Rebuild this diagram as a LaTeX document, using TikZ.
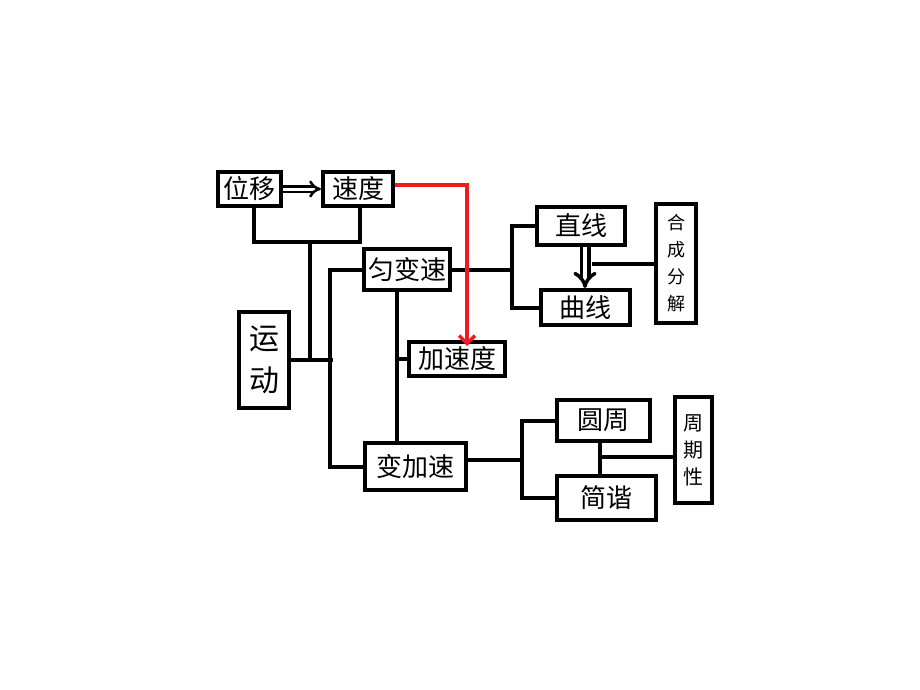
\documentclass[tikz,border=0pt]{standalone}
\usepackage{fontspec}
\newfontfamily\cjk{Noto Sans CJK SC}
\usetikzlibrary{arrows.meta}
\definecolor{arrred}{RGB}{237,28,36}
\begin{document}
\begin{tikzpicture}[x=1pt,y=-1pt,
	box/.style={draw, line width=4pt, inner sep=0pt, align=center, font=\cjk\fontsize{26}{30}\selectfont},
	vtext/.style={font=\cjk\fontsize{18}{27}\selectfont},
	conn/.style={line width=4pt},
	dbl/.style={double, double distance=3pt, line width=2.5pt, -{Implies}},
	redarr/.style={arrred, line width=3.5pt, -{Straight Barb[length=8pt,width=16pt]}}]
	\useasboundingbox (0,0) rectangle (920,690);

	\node[box, minimum width=63pt, minimum height=34pt] (wy) at (249,189) {位移};
	\node[box, minimum width=70pt, minimum height=34pt] (sd) at (358,189) {速度};
	\node[box, minimum width=50pt, minimum height=96pt, font=\cjk\fontsize{30}{42}\selectfont] (yd) at (264,360) {运\\动};
	\node[box, minimum width=86pt, minimum height=41pt] (ybs) at (407,269.5) {匀变速};
	\node[box, minimum width=96pt, minimum height=34pt] (jsd) at (457,359) {加速度};
	\node[box, minimum width=101pt, minimum height=47pt] (bjs) at (415.5,466.5) {变加速};
	\node[box, minimum width=88pt, minimum height=38pt] (zx) at (581,226) {直线};
	\node[box, minimum width=89pt, minimum height=35pt] (qx) at (585.5,307.5) {曲线};
	\node[box, vtext, minimum width=40pt, minimum height=119pt] (hcfj) at (676,263.5) {合\\成\\分\\解};
	\node[box, minimum width=93pt, minimum height=41pt] (yz) at (603.5,420.5) {圆周};
	\node[box, minimum width=99pt, minimum height=44pt] (jx) at (606.5,498) {简谐};
	\node[box, vtext, font=\cjk\fontsize{20}{27}\selectfont, minimum width=37pt, minimum height=106pt] (zqx) at (693.5,450) {周\\期\\性};

	\coordinate (j1) at (310,242);
	\coordinate (j2) at (330,360);
	\coordinate (j3) at (397,359);
	\coordinate (j4) at (512,269.5);
	\coordinate (j5) at (592,263.5);
	\coordinate (j6) at (522,460);
	\coordinate (j7) at (599,457);

	\draw[conn] ([xshift=5pt]wy.south) |- (j1) -| ([xshift=2pt]sd.south);
	\draw[conn] (j1) -- (j1 |- yd.east);
	\draw[conn] (yd.east) -- ([xshift=3pt]j2);
	\draw[conn] (ybs.west) -| (j2) |- (bjs.west);
	\draw[conn] ([xshift=-10pt]ybs.south) -- ([xshift=-10pt]ybs.south |- bjs.north);
	\draw[conn] (j3) -- (jsd.west);
	\draw[conn] (ybs.east) -- (j4);
	\draw[conn] (zx.west) -| (j4) |- (qx.west);
	\draw[conn] (j5) -- (hcfj.west);
	\draw[conn] (bjs.east |- j6) -- (j6);
	\draw[conn] (yz.west) -| (j6) |- (jx.west);
	\draw[conn] ([xshift=-4pt]yz.south) -- ([xshift=-4pt]yz.south |- jx.north);
	\draw[conn] (j7) -- (j7 -| zqx.west);

	\draw[dbl] (wy.east) -- (sd.west);
	\draw[dbl, line width=3.5pt, double distance=4pt] ([xshift=4pt]zx.south) -- ([xshift=4pt]zx.south |- qx.north);
	\draw[redarr] ([yshift=4pt]sd.east) -| ([xshift=10pt,yshift=-6pt]jsd.north);
\end{tikzpicture}
\end{document}
